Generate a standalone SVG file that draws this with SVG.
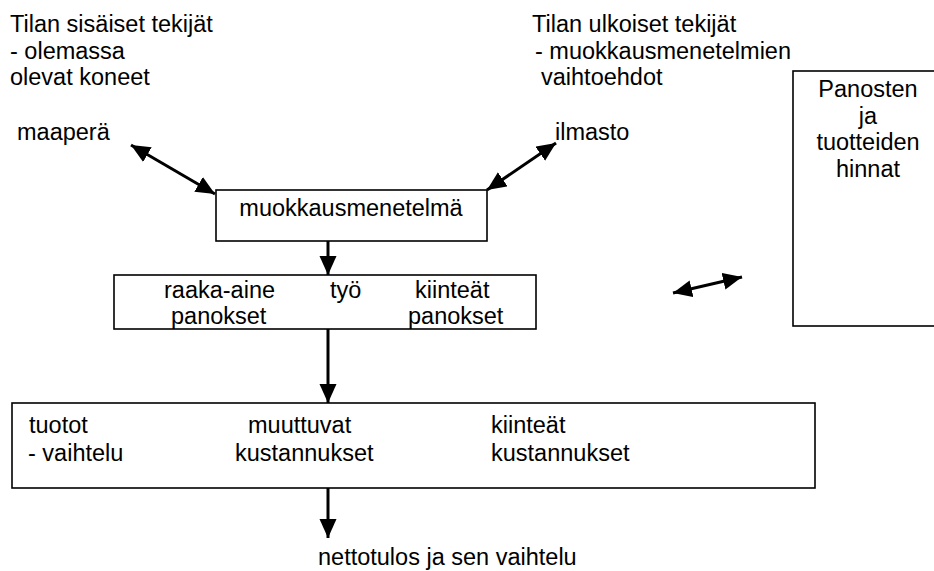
<svg xmlns="http://www.w3.org/2000/svg" width="934" height="571" viewBox="0 0 934 571">
<style>
text{font-family:"Liberation Sans",Arial,sans-serif;font-size:23.5px;fill:#000}
.box{fill:#fff;stroke:#000;stroke-width:1.6}
.arr{stroke:#000;stroke-width:3;fill:none}
.one{marker-end:url(#ah)}
.two{marker-start:url(#ah);marker-end:url(#ah)}
.mid{text-anchor:middle}
</style>
<defs>
<marker id="ah" markerUnits="userSpaceOnUse" markerWidth="20" markerHeight="18" refX="19" refY="8.5" orient="auto-start-reverse">
<path d="M0,0 L19,8.5 L0,17 z" fill="#000"/>
</marker>
</defs>
<g id="sisaiset">
<text x="10" y="32">Tilan sisäiset tekijät</text>
<text x="10" y="58.5">- olemassa</text>
<text x="10" y="85">olevat koneet</text>
</g>
<g id="maapera"><text x="17" y="140">maaperä</text></g>
<g id="ulkoiset">
<text x="532" y="32">Tilan ulkoiset tekijät</text>
<text x="535" y="58.5">- muokkausmenetelmien</text>
<text x="541" y="85">vaihtoehdot</text>
</g>
<g id="ilmasto"><text x="555" y="140">ilmasto</text></g>
<g id="hinnat">
<rect class="box" x="793" y="71" width="150" height="255"/>
<text class="mid" x="868" y="97">Panosten</text>
<text class="mid" x="868" y="123.5">ja</text>
<text class="mid" x="868" y="150">tuotteiden</text>
<text class="mid" x="868" y="176.5">hinnat</text>
</g>
<g id="muokkaus">
<rect class="box" x="216" y="190" width="271" height="51"/>
<text class="mid" x="351" y="216">muokkausmenetelmä</text>
</g>
<g id="panokset">
<rect class="box" x="114" y="275" width="422" height="54"/>
<text x="164" y="298">raaka-aine</text>
<text x="330" y="298">työ</text>
<text x="415" y="298">kiinteät</text>
<text x="171" y="324">panokset</text>
<text x="408" y="324">panokset</text>
</g>
<g id="kustannukset">
<rect class="box" x="12" y="403" width="803" height="85"/>
<text x="29" y="433">tuotot</text>
<text x="28" y="461">- vaihtelu</text>
<text x="248" y="433">muuttuvat</text>
<text x="235" y="461">kustannukset</text>
<text x="491" y="433">kiinteät</text>
<text x="491" y="461">kustannukset</text>
</g>
<g id="nettotulos"><text x="318" y="565">nettotulos ja sen vaihtelu</text></g>
<g id="connectors">
<line class="arr two" x1="131" y1="145" x2="215" y2="194"/>
<line class="arr two" x1="556" y1="143" x2="487" y2="190"/>
<line class="arr two" x1="673" y1="293" x2="742" y2="277"/>
<line class="arr one" x1="328" y1="241" x2="328" y2="275"/>
<line class="arr one" x1="328" y1="329" x2="328" y2="403"/>
<line class="arr one" x1="328" y1="488" x2="328" y2="538"/>
</g>
</svg>
